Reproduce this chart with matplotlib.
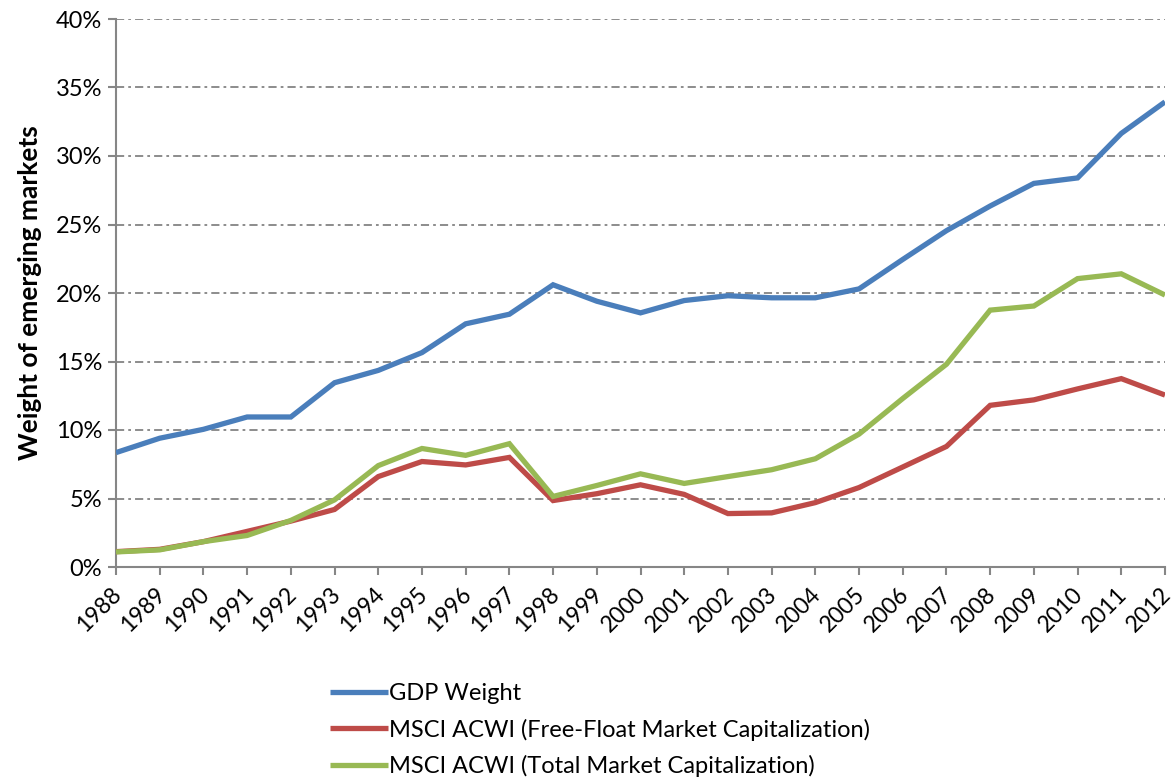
import matplotlib
matplotlib.use("Agg")
import matplotlib.pyplot as plt
from matplotlib.ticker import FuncFormatter
from matplotlib.transforms import ScaledTranslation

years = list(range(1988, 2013))
gdp_weight = [8.35, 9.4, 10.05, 10.95, 10.95, 13.45, 14.35, 15.65, 17.75, 18.45, 20.6, 19.4,
              18.55, 19.45, 19.8, 19.65, 19.65, 20.3, 22.45, 24.55, 26.35, 28.0, 28.4, 31.65, 33.95]
msci_free_float = [1.12, 1.29, 1.85, 2.6, 3.35, 4.2, 6.6, 7.7, 7.45, 8.0, 4.85, 5.35,
                   6.0, 5.3, 3.9, 3.95, 4.7, 5.8, 7.3, 8.8, 11.8, 12.2, 13.0, 13.75, 12.55]
msci_total = [1.1, 1.25, 1.85, 2.3, 3.4, 4.9, 7.4, 8.65, 8.15, 9.0, 5.15, 5.95,
              6.8, 6.1, 6.6, 7.1, 7.9, 9.7, 12.3, 14.8, 18.75, 19.05, 21.05, 21.4, 19.85]
series_labels = ["GDP Weight",
                 "MSCI ACWI (Free-Float Market Capitalization)",
                 "MSCI ACWI (Total Market Capitalization)"]
colors = ["#4A7EBB", "#BE4B48", "#98B954"]

plt.rcParams['font.family'] = ['Lato', 'DejaVu Sans']

fig = plt.figure(figsize=(11.74, 7.82), dpi=100)
ax = fig.add_axes([116/1174, 1-567/782, (1165-116)/1174, (567-19)/782])

for vals, lab, c in zip([gdp_weight, msci_free_float, msci_total], series_labels, colors):
    ax.plot(years, vals, color=c, lw=3.8, label=lab, solid_capstyle='butt', solid_joinstyle='miter', zorder=3)

ax.set_xlim(1988, 2012)
ax.set_ylim(0, 40)
ax.set_yticks(range(0, 41, 5))
ax.yaxis.set_major_formatter(FuncFormatter(lambda v, p: f"{int(v)}%"))
ax.set_xticks(years)
ax.set_xticklabels([str(y) for y in years], rotation=45, ha='right', rotation_mode='anchor')
ax.tick_params(axis='both', colors='#868686', labelcolor='black', length=6, width=1.5, direction='out')
ax.tick_params(axis='x', pad=6, labelsize=16.5)
ax.tick_params(axis='y', pad=4, labelsize=17)
shift = ScaledTranslation(-5/100, 0, fig.dpi_scale_trans)
for lbl in ax.get_xticklabels():
    lbl.set_transform(lbl.get_transform() + shift)

ax.grid(axis='y', color='#8C8C8C', lw=1.4, linestyle=(0, (4.2, 2.1, 1.4, 2.1)))
ax.set_axisbelow(True)
for s in ['top', 'right']:
    ax.spines[s].set_visible(False)
for s in ['left', 'bottom']:
    ax.spines[s].set_color('#868686')
    ax.spines[s].set_linewidth(1.5)

ax.set_ylabel("Weight of emerging markets", fontsize=19, fontweight='bold', labelpad=10)

handles, labels = ax.get_legend_handles_labels()
fig.legend(handles, labels, loc='upper left', bbox_to_anchor=(321/1174, 1-674/782),
           frameon=False, fontsize=17, handlelength=2.45, handletextpad=0.05, labelspacing=0.6,
           borderaxespad=0)

fig.savefig("out.png", dpi=100)
